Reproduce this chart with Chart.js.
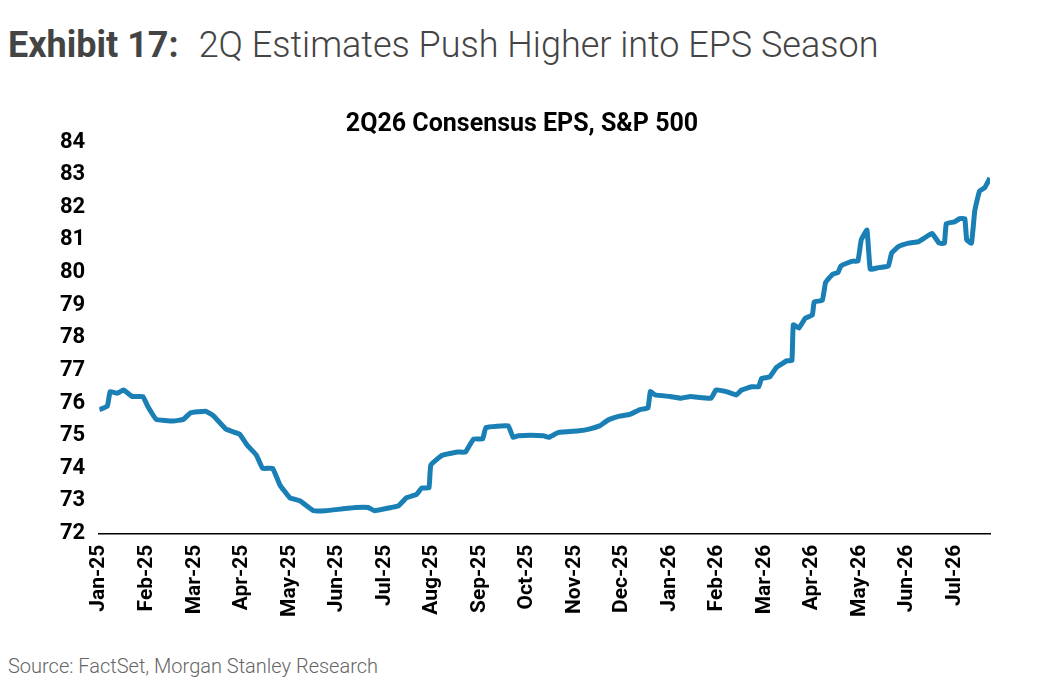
<!DOCTYPE html>
<html>
<head>
<meta charset="utf-8">
<script src="https://cdn.jsdelivr.net/npm/chart.js@4"></script>
<style>
  body { margin: 0; background: #fff; font-family: Roboto, sans-serif; width: 1048px; height: 700px; position: relative; overflow: hidden; }
  .head { position: absolute; left: 8px; top: 24px; font-size: 36px; color: #444; }
  .head b { font-weight: 700; margin-right: 20px; }
  .head span { font-weight: 300; }
  .src { position: absolute; left: 8px; top: 654px; font-size: 20px; color: #666; font-weight: 300; }
  #wrap { position: absolute; left: 0; top: 104px; width: 1048px; height: 516px; }
</style>
</head>
<body>
<div class="head"><b>Exhibit 17:</b><span>2Q Estimates Push Higher into EPS Season</span></div>
<div id="wrap"><canvas id="epsChart"></canvas></div>
<div class="src">Source: FactSet, Morgan Stanley Research</div>
<script>
// Month labels (tick at each integer month index)
const monthLabels = ['Jan-25','Feb-25','Mar-25','Apr-25','May-25','Jun-25','Jul-25','Aug-25','Sep-25',
    'Oct-25','Nov-25','Dec-25','Jan-26','Feb-26','Mar-26','Apr-26','May-26','Jun-26','Jul-26'];

// Position in months since Jan-25
const monthPos = [0,0.17,0.23,0.38,0.51,0.70,0.92,1.02,1.20,1.56,1.77,1.92,2.24,2.41,2.67,2.95,3.12,3.31,
    3.44,3.65,3.80,4.01,4.23,4.51,4.76,5.08,5.40,5.66,5.79,6.15,6.30,6.47,6.68,6.79,6.94,6.98,7.22,7.54,
    7.71,7.88,8.07,8.14,8.61,8.71,8.82,9.35,9.46,9.67,10.10,10.31,10.53,10.63,10.74,10.95,11.17,11.38,
    11.55,11.60,11.70,12.02,12.24,12.45,12.88,12.98,13.20,13.41,13.52,13.73,13.88,13.94,14.11,14.26,
    14.48,14.58,14.61,14.73,14.86,15.01,15.05,15.22,15.29,15.44,15.55,15.61,15.76,15.87,15.97,16.04,
    16.16,16.23,16.40,16.61,16.68,16.83,17.04,17.25,17.36,17.53,17.68,17.79,17.83,18.00,18.11,18.22,
    18.26,18.36,18.43,18.53,18.64,18.75];

// 2Q26 consensus EPS
const epsValues = [75.8,75.9,76.35,76.3,76.4,76.2,76.2,75.9,75.5,75.45,75.5,75.7,75.75,75.6,75.2,75.05,74.7,74.4,
    74.0,74.0,73.5,73.1,73.0,72.7,72.7,72.75,72.8,72.8,72.7,72.8,72.85,73.1,73.2,73.4,73.4,74.1,74.4,74.5,
    74.5,74.9,74.9,75.25,75.3,74.95,75.0,75.0,74.95,75.1,75.15,75.2,75.3,75.4,75.5,75.6,75.65,75.8,
    75.85,76.35,76.25,76.2,76.15,76.2,76.15,76.4,76.35,76.25,76.4,76.5,76.5,76.75,76.8,77.1,
    77.3,77.3,78.4,78.3,78.6,78.7,79.1,79.15,79.7,79.95,80.0,80.2,80.3,80.35,80.35,81.0,
    81.3,80.1,80.15,80.2,80.6,80.8,80.9,80.95,81.05,81.2,80.9,80.9,81.5,81.55,81.65,81.65,
    81.0,80.9,81.9,82.5,82.6,82.9];

const yTicks = [72,73,74,75,76,77,78,79,80,81,82,83,84];

const points = monthPos.map((m, i) => ({ x: m, y: epsValues[i] }));

new Chart(document.getElementById('epsChart'), {
    type: 'line',
    data: {
        datasets: [{
            data: points,
            borderColor: '#1a7fb5',
            borderWidth: 5,
            pointRadius: 0,
            tension: 0.1,
            fill: false
        }]
    },
    options: {
        responsive: true,
        maintainAspectRatio: false,
        animation: false,
        layout: { padding: { left: 54, right: 58, top: 0, bottom: 0 } },
        plugins: {
            legend: { display: false },
            tooltip: { enabled: false },
            title: {
                display: true,
                text: '2Q26 Consensus EPS, S&P 500',
                color: '#000',
                font: { family: 'Roboto', size: 25, weight: '700' },
                padding: { top: 6, bottom: 2 }
            }
        },
        scales: {
            x: {
                type: 'linear',
                min: 0,
                max: 18.75,
                afterBuildTicks: axis => { axis.ticks = monthLabels.map((_, i) => ({ value: i })); },
                grid: { display: false, drawTicks: true, tickLength: 8, color: '#000' },
                border: { color: '#000', width: 1.5 },
                ticks: {
                    autoSkip: false,
                    maxRotation: 90,
                    minRotation: 90,
                    color: '#000',
                    font: { family: 'Roboto', size: 21, weight: '700' },
                    callback: v => monthLabels[v]
                }
            },
            y: {
                min: 72,
                max: 84,
                afterBuildTicks: axis => { axis.ticks = yTicks.map(v => ({ value: v })); },
                grid: { display: false },
                border: { display: false },
                ticks: {
                    color: '#000',
                    padding: 6,
                    font: { family: 'Roboto', size: 22, weight: '700' }
                }
            }
        }
    }
});
</script>
</body>
</html>
